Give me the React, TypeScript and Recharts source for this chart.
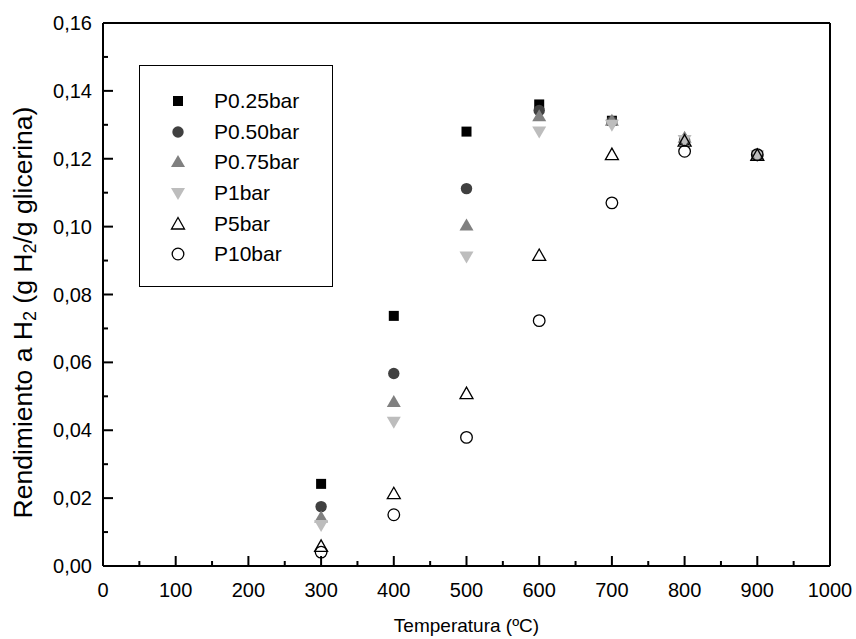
import React from "react";
import { ScatterChart, Scatter, XAxis, YAxis, Legend } from "recharts";

// Temperature (ºC) at which each run was taken
const temperatures = [300, 400, 500, 600, 700, 800, 900];

// H2 yield (g H2 / g glycerine) per pressure
const p025 = [0.0242, 0.0737, 0.128, 0.136, 0.1312, 0.1255, 0.121];
const p050 = [0.0175, 0.0567, 0.1112, 0.1342, 0.131, 0.1255, 0.121];
const p075 = [0.0143, 0.0483, 0.1003, 0.1325, 0.1312, 0.1262, 0.121];
const p1 = [0.0121, 0.0425, 0.0912, 0.128, 0.13, 0.1255, 0.121];
const p5 = [0.0058, 0.0213, 0.0508, 0.0915, 0.1212, 0.1252, 0.121];
const p10 = [0.0041, 0.0151, 0.0379, 0.0723, 0.107, 0.1222, 0.1212];

const xTicks = [0, 50, 100, 150, 200, 250, 300, 350, 400, 450, 500, 550, 600, 650, 700, 750, 800, 850, 900, 950, 1000];
const yTicks = [0, 0.01, 0.02, 0.03, 0.04, 0.05, 0.06, 0.07, 0.08, 0.09, 0.1, 0.11, 0.12, 0.13, 0.14, 0.15, 0.16];

type Kind = "square" | "circle" | "up" | "down" | "openUp" | "openCircle";

const series: { name: string; values: number[]; kind: Kind; color: string }[] = [
  { name: "P0.25bar", values: p025, kind: "square", color: "#000000" },
  { name: "P0.50bar", values: p050, kind: "circle", color: "#404040" },
  { name: "P0.75bar", values: p075, kind: "up", color: "#808080" },
  { name: "P1bar", values: p1, kind: "down", color: "#bdbdbd" },
  { name: "P5bar", values: p5, kind: "openUp", color: "#000000" },
  { name: "P10bar", values: p10, kind: "openCircle", color: "#000000" },
];

const FONT = "'Liberation Sans', Arial, Helvetica, sans-serif";

function Marker({ kind, color, cx, cy }: { kind: Kind; color: string; cx: number; cy: number }) {
  switch (kind) {
    case "square":
      return <rect x={cx - 5} y={cy - 5} width={10} height={10} fill={color} />;
    case "circle":
      return <circle cx={cx} cy={cy} r={5.7} fill={color} />;
    case "up":
      return <polygon points={`${cx},${cy - 7} ${cx - 7},${cy + 5} ${cx + 7},${cy + 5}`} fill={color} />;
    case "down":
      return <polygon points={`${cx - 7},${cy - 5} ${cx + 7},${cy - 5} ${cx},${cy + 7}`} fill={color} />;
    case "openUp":
      return (
        <polygon
          points={`${cx},${cy - 6.5} ${cx - 6.5},${cy + 5} ${cx + 6.5},${cy + 5}`}
          fill="none"
          stroke={color}
          strokeWidth={1.3}
        />
      );
    default:
      return <circle cx={cx} cy={cy} r={5.8} fill="none" stroke={color} strokeWidth={1.3} />;
  }
}

const isMajorX = (v: number) => v % 100 === 0;
const isMajorY = (v: number) => Math.round(v * 100) % 2 === 0;

function BottomTick({ x, y, payload }: any) {
  const major = isMajorX(payload.value);
  return (
    <g>
      <line x1={x} x2={x} y1={y} y2={y - (major ? 10 : 5)} stroke="#000" strokeWidth={2} />
      {major && (
        <text x={x} y={y + 31} textAnchor="middle" fontSize={20} fontFamily={FONT} fill="#000">
          {payload.value}
        </text>
      )}
    </g>
  );
}

function TopTick({ x, y, payload }: any) {
  const major = isMajorX(payload.value);
  return <line x1={x} x2={x} y1={y} y2={y + (major ? 10 : 5)} stroke="#000" strokeWidth={2} />;
}

function LeftTick({ x, y, payload }: any) {
  const major = isMajorY(payload.value);
  return (
    <g>
      <line x1={x} x2={x + (major ? 10 : 5)} y1={y} y2={y} stroke="#000" strokeWidth={2} />
      {major && (
        <text x={x - 11} y={y + 7} textAnchor="end" fontSize={20} fontFamily={FONT} fill="#000">
          {payload.value.toFixed(2).replace(".", ",")}
        </text>
      )}
    </g>
  );
}

function RightTick({ x, y, payload }: any) {
  const major = isMajorY(payload.value);
  return <line x1={x} x2={x - (major ? 10 : 5)} y1={y} y2={y} stroke="#000" strokeWidth={2} />;
}

function YTitle({ viewBox }: any) {
  const cx = 23;
  const cy = viewBox.y + viewBox.height / 2 + 18;
  return (
    <text
      x={cx}
      y={cy}
      transform={`rotate(-90, ${cx}, ${cy})`}
      textAnchor="middle"
      dominantBaseline="central"
      fontSize={26.5}
      fontFamily={FONT}
      fill="#000"
    >
      Rendimiento a H
      <tspan dy={7} fontSize={18}>2</tspan>
      <tspan dy={-7}> (g H</tspan>
      <tspan dy={7} fontSize={18}>2</tspan>
      <tspan dy={-7}>/g glicerina)</tspan>
    </text>
  );
}

function XTitle({ viewBox }: any) {
  return (
    <text
      x={viewBox.x + viewBox.width / 2}
      y={632}
      textAnchor="middle"
      fontSize={19}
      fontFamily={FONT}
      fill="#000"
    >
      Temperatura (ºC)
    </text>
  );
}

function LegendBox() {
  return (
    <div
      style={{
        width: 194,
        height: 222,
        border: "1px solid #000",
        boxSizing: "border-box",
        background: "#fff",
        paddingTop: 20,
        fontFamily: FONT,
        fontSize: 21,
      }}
    >
      {series.map((s) => (
        <div key={s.name} style={{ display: "flex", alignItems: "center", height: 30.6 }}>
          <svg width={74} height={20} style={{ flex: "none" }}>
            <Marker kind={s.kind} color={s.color} cx={38} cy={10} />
          </svg>
          <span style={{ lineHeight: "20px" }}>{s.name}</span>
        </div>
      ))}
    </div>
  );
}

export default function App() {
  return (
    <div style={{ position: "absolute", left: 0, top: 0, background: "#fff" }}>
      <ScatterChart width={856} height={639} margin={{ top: 22, right: 25, bottom: 0, left: 0 }}>
        <XAxis
          type="number"
          dataKey="x"
          domain={[0, 1000]}
          ticks={xTicks}
          interval={0}
          height={73}
          tickSize={0}
          tickMargin={0}
          tickLine={false}
          tick={<BottomTick />}
          axisLine={{ stroke: "#000", strokeWidth: 2 }}
          label={<XTitle />}
        />
        <XAxis
          xAxisId="top"
          orientation="top"
          type="number"
          domain={[0, 1000]}
          ticks={xTicks}
          interval={0}
          height={1}
          tickSize={0}
          tickMargin={0}
          tickLine={false}
          tick={<TopTick />}
          axisLine={{ stroke: "#000", strokeWidth: 2 }}
        />
        <YAxis
          type="number"
          dataKey="y"
          domain={[0, 0.16]}
          ticks={yTicks}
          interval={0}
          width={103}
          tickSize={0}
          tickMargin={0}
          tickLine={false}
          tick={<LeftTick />}
          axisLine={{ stroke: "#000", strokeWidth: 2 }}
          label={<YTitle />}
        />
        <YAxis
          yAxisId="right"
          orientation="right"
          type="number"
          domain={[0, 0.16]}
          ticks={yTicks}
          interval={0}
          width={1}
          tickSize={0}
          tickMargin={0}
          tickLine={false}
          tick={<RightTick />}
          axisLine={{ stroke: "#000", strokeWidth: 2 }}
        />
        {series.map((s) => (
          <Scatter
            key={s.name}
            name={s.name}
            data={temperatures.map((t, i) => ({ x: t, y: s.values[i] }))}
            isAnimationActive={false}
            shape={(p: any) => <Marker kind={s.kind} color={s.color} cx={p.cx} cy={p.cy} />}
          />
        ))}
        <Legend
          layout="vertical"
          align="center"
          verticalAlign="middle"
          content={<LegendBox />}
          wrapperStyle={{ left: 139, top: 65, width: 194, height: 222 }}
        />
      </ScatterChart>
    </div>
  );
}
